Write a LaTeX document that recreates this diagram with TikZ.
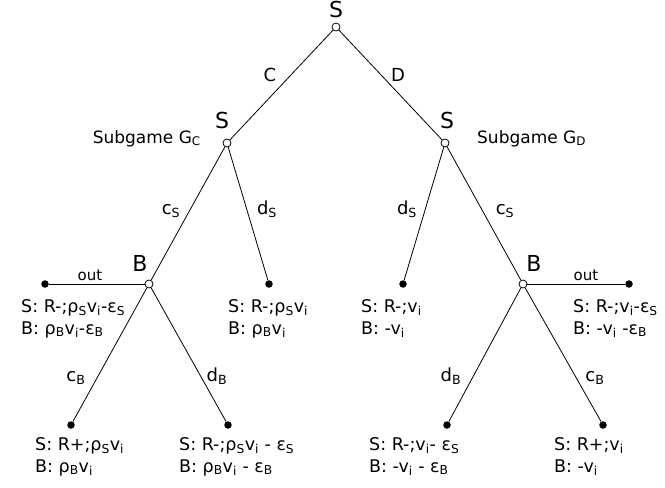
\documentclass[tikz,border=0pt]{standalone}
\usepackage{amsmath}
\usepackage{fontspec}
\setmainfont{DejaVu Sans}
\newcommand\dn[1]{\ensuremath{_{\text{#1}}}}
\begin{document}
\begin{tikzpicture}[x=1pt,y=-1pt,
  dec/.style={circle,draw,fill=white,inner sep=0pt,minimum size=8pt,line width=0.8pt},
  leaf/.style={circle,fill=black,inner sep=0pt,minimum size=7.5pt},
  edge/.style={line width=0.8pt},
  plab/.style={font=\fontsize{22}{26}\selectfont,anchor=base,inner sep=0pt},
  elab/.style={font=\fontsize{18}{21}\selectfont,anchor=base,inner sep=0pt},
  olab/.style={font=\fontsize{15}{18}\selectfont,anchor=base,inner sep=0pt},
  sglab/.style={font=\fontsize{17}{20}\selectfont,inner sep=0pt},
  pay/.style={font=\fontsize{17.5}{22}\selectfont,anchor=base west,align=left,inner sep=0pt},
]
\useasboundingbox (0,0) rectangle (665,488);
% decision nodes
\node[dec] (r) at (336,27) {};
\node[dec] (sc) at (227,143) {};
\node[dec] (sd) at (445,143) {};
\node[dec] (bc) at (149,284) {};
\node[dec] (bd) at (523,284) {};
% leaves
\node[leaf] (oc) at (45,284) {};
\node[leaf] (dsc) at (269,284) {};
\node[leaf] (dsd) at (403,284) {};
\node[leaf] (od) at (629,284) {};
\node[leaf] (cbc) at (71,425) {};
\node[leaf] (dbc) at (228,425) {};
\node[leaf] (dbd) at (447,425) {};
\node[leaf] (cbd) at (603,425) {};
% edges
\draw[edge] (r) -- (sc);
\draw[edge] (r) -- (sd);
\draw[edge] (sc) -- (bc);
\draw[edge] (sc) -- (dsc);
\draw[edge] (sd) -- (dsd);
\draw[edge] (sd) -- (bd);
\draw[edge] (bc) -- (oc);
\draw[edge] (bc) -- (cbc);
\draw[edge] (bc) -- (dbc);
\draw[edge] (bd) -- (od);
\draw[edge] (bd) -- (dbd);
\draw[edge] (bd) -- (cbd);
% player labels
\node[plab] (lr) at (336,17) {S};
\node[plab] (lsc) at (222,128) {S};
\node[plab] (lsd) at (447,128) {S};
\node[plab] (lbc) at (140,271) {B};
\node[plab] (lbd) at (534,271) {B};
% edge labels
\node[elab] (ec) at (270,81) {C};
\node[elab] (ed) at (398,81) {D};
\node[elab] (ecs1) at (171,214) {c\dn{S}};
\node[elab] (eds1) at (267,214) {d\dn{S}};
\node[elab] (eds2) at (407,214) {d\dn{S}};
\node[elab] (ecs2) at (505,214) {c\dn{S}};
\node[elab] (ecb1) at (76,381) {c\dn{B}};
\node[elab] (edb1) at (217,381) {d\dn{B}};
\node[elab] (edb2) at (451,381) {d\dn{B}};
\node[elab] (ecb2) at (595,381) {c\dn{B}};
\node[olab] (out1) at (90,280) {out};
\node[olab] (out2) at (586,280) {out};
% subgame labels
\node[sglab,anchor=base east] (sgc) at (201,143) {Subgame G\dn{C}};
\node[sglab,anchor=base west] (sgd) at (477,143) {Subgame G\dn{D}};
% payoffs (anchor = baseline of the second line)
\node[pay] (p1) at (21,334) {S: R-;ρ\dn{S}v\dn{i}-ε\dn{S}\\B: ρ\dn{B}v\dn{i}-ε\dn{B}};
\node[pay] (p2) at (228,334) {S: R-;ρ\dn{S}v\dn{i}\\B: ρ\dn{B}v\dn{i}};
\node[pay] (p3) at (361,334) {S: R-;v\dn{i}\\B: -v\dn{i}};
\node[pay] (p4) at (573,334) {S: R-;v\dn{i}-ε\dn{S}\\B: -v\dn{i} -ε\dn{B}};
\node[pay] (p5) at (35,472) {S: R+;ρ\dn{S}v\dn{i}\\B: ρ\dn{B}v\dn{i}};
\node[pay] (p6) at (179,472) {S: R-;ρ\dn{S}v\dn{i} - ε\dn{S}\\B: ρ\dn{B}v\dn{i} - ε\dn{B}};
\node[pay] (p7) at (369,472) {S: R-;v\dn{i}- ε\dn{S}\\B: -v\dn{i} - ε\dn{B}};
\node[pay] (p8) at (554,472) {S: R+;v\dn{i}\\B: -v\dn{i}};
\end{tikzpicture}
\end{document}
